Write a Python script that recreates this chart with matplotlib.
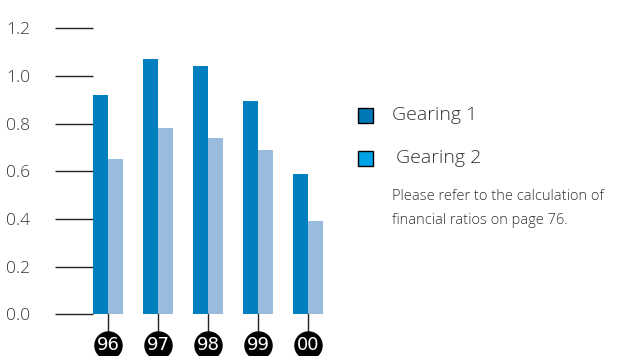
import matplotlib.pyplot as plt
import matplotlib.patches as mpatches
import numpy as np

plt.rcParams.update({
    "font.family": ["Open Sans", "DejaVu Sans"],
    "font.weight": "light",
})

# --- Data ---------------------------------------------------------
years = ["96", "97", "98", "99", "00"]
gearing_1 = [0.92, 1.07, 1.04, 0.895, 0.59]
gearing_2 = [0.65, 0.78, 0.74, 0.69, 0.39]
yticks = [0.0, 0.2, 0.4, 0.6, 0.8, 1.0, 1.2]

DARK = "#0080BF"
LIGHT = "#99BBDD"
LEG_DARK = "#0077B6"
LEG_LIGHT = "#00A2E8"
TEXT = "#333333"

W, H = 622, 356
fig = plt.figure(figsize=(W / 100, H / 100), dpi=100)
# axes box in pixels: left 55, right 355, bottom 314.3, top 28.3
ax = fig.add_axes([55 / W, (H - 314.3) / H, 300 / W, 286 / H])

x = np.arange(len(years))
bw = 0.3
ax.bar(x - bw / 2, gearing_1, width=bw, color=DARK, linewidth=0)
ax.bar(x + bw / 2, gearing_2, width=bw, color=LIGHT, linewidth=0)

ax.set_xlim(-1.06, 4.94)
ax.set_ylim(0, 1.2)

# short horizontal tick lines left of the first bar
ax.hlines(yticks, -1.06, -bw, color="#222222", linewidth=1.0, clip_on=False)

ax.set_yticks(yticks)
ax.set_yticklabels([f"{v:.1f}" for v in yticks], fontsize=12.5, color=TEXT)
ax.tick_params(axis="y", length=0, pad=18)
ax.set_xticks([])
for s in ax.spines.values():
    s.set_visible(False)

# year markers: stem + black disc with white number
px = 1.2 / 286.0
for xi, yr in zip(x, years):
    ax.plot([xi, xi], [0, -17 * px], color="#222222", linewidth=1.0, clip_on=False)
    ax.scatter([xi], [-31 * px], s=380, color="black", clip_on=False, zorder=3)
    ax.text(xi, -31 * px, yr, color="white", fontsize=13,
            family=["Liberation Sans Narrow", "DejaVu Sans"], fontweight="normal",
            ha="center", va="center", clip_on=False, zorder=4)

# legend
for (y0, col, label, tx) in [(108, LEG_DARK, "Gearing 1", 392),
                             (151, LEG_LIGHT, "Gearing 2", 396)]:
    fig.patches.append(mpatches.Rectangle(
        (358 / W, (H - y0 - 15) / H), 15 / W, 15 / H,
        transform=fig.transFigure, facecolor=col, edgecolor="black",
        linewidth=1.0))
    fig.text(tx / W, (H - y0 - 7) / H, label, fontsize=14, color=TEXT,
             ha="left", va="center")

fig.text(392 / W, (H - 197) / H, "Please refer to the calculation of",
         fontsize=10.5, color=TEXT, ha="left", va="center")
fig.text(392 / W, (H - 220) / H, "financial ratios on page 76.",
         fontsize=10.5, color=TEXT, ha="left", va="center")

fig.savefig("out.png", dpi=100)
